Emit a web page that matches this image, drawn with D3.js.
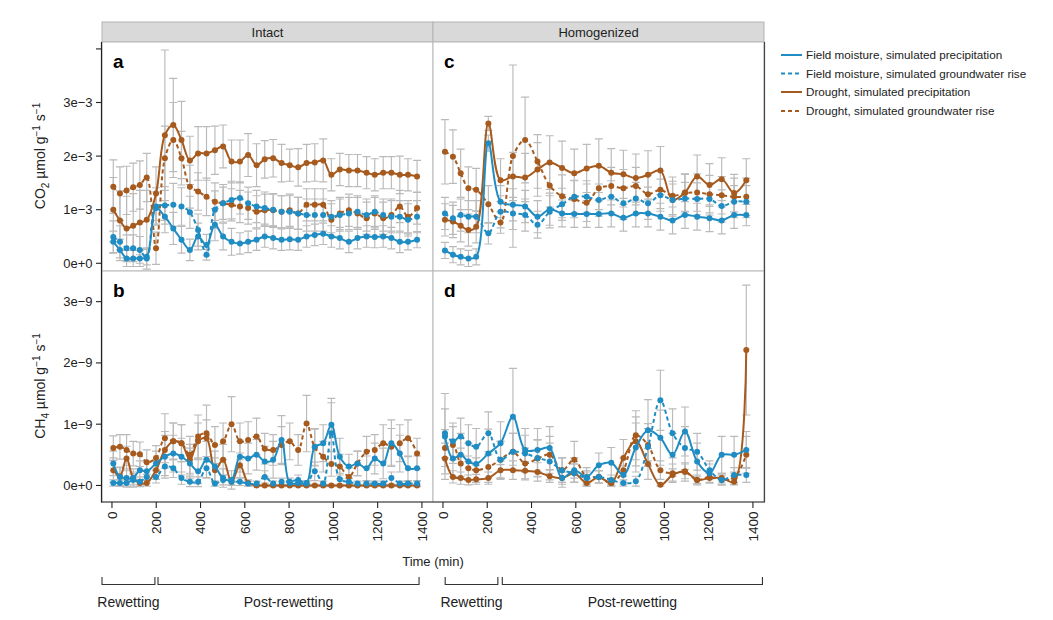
<!DOCTYPE html>
<html><head><meta charset="utf-8">
<script src="https://cdn.jsdelivr.net/npm/d3@7"></script>
<style>body{margin:0;background:#fff} text{font-family:"Liberation Sans",Arial,Helvetica,sans-serif}</style>
</head><body><svg id="chart" width="1053" height="620"></svg>
<script>
// ---------- DATA ----------
const timesIntact = [6, 36, 66, 96, 126, 157, 199, 239, 277, 314, 352, 389, 427, 465, 502, 540, 578, 615, 653, 690, 728, 766, 803, 841, 879, 916, 954, 991, 1029, 1070, 1109, 1150, 1187, 1225, 1262, 1300, 1337, 1378];
const timesHomog = [9, 45, 80, 115, 150, 205, 260, 316, 371, 427, 482, 538, 593, 649, 704, 760, 815, 871, 926, 982, 1037, 1093, 1148, 1204, 1259, 1315, 1370];

// CO2 (units of 1e-3 umol g-1 s-1), Intact
const co2IntactFP = [0.40, 0.25, 0.09, 0.09, 0.09, 0.12, 1.03, 0.87, 0.65, 0.44, 0.25, 0.50, 0.34, 0.72, 0.50, 0.40, 0.37, 0.40, 0.44, 0.50, 0.47, 0.44, 0.45, 0.44, 0.50, 0.53, 0.55, 0.50, 0.47, 0.40, 0.47, 0.50, 0.49, 0.50, 0.47, 0.40, 0.40, 0.44];
const co2IntactFPerr = [0.2, 0.2, 0.15, 0.15, 0.15, 0.15, 0.3, 0.3, 0.3, 0.25, 0.2, 0.25, 0.2, 0.3, 0.25, 0.25, 0.2, 0.2, 0.2, 0.2, 0.2, 0.2, 0.2, 0.2, 0.2, 0.2, 0.2, 0.2, 0.2, 0.2, 0.2, 0.2, 0.2, 0.2, 0.2, 0.2, 0.15, 0.15];
const co2IntactFG = [0.49, 0.40, 0.28, 0.28, 0.25, 0.09, 1.06, 1.08, 1.09, 1.06, 0.95, 0.62, 0.16, 1.00, 1.12, 1.18, 1.22, 1.12, 1.06, 1.03, 1.00, 0.96, 0.96, 0.93, 0.90, 0.90, 0.90, 0.87, 0.90, 0.93, 0.96, 0.90, 0.96, 0.90, 0.87, 0.87, 0.81, 0.87];
const co2IntactFGerr = [0.3, 0.3, 0.25, 0.25, 0.25, 0.2, 0.35, 0.35, 0.4, 0.35, 0.3, 0.3, 0.1, 0.35, 0.35, 0.35, 0.3, 0.3, 0.3, 0.3, 0.3, 0.3, 0.3, 0.3, 0.3, 0.3, 0.3, 0.3, 0.3, 0.3, 0.3, 0.3, 0.3, 0.3, 0.3, 0.3, 0.3, 0.3];
const co2IntactDP = [1.00, 0.80, 0.65, 0.70, 0.76, 0.81, 1.30, 2.39, 2.58, 2.30, 1.92, 2.05, 2.05, 2.11, 2.18, 1.90, 1.90, 2.02, 1.83, 1.94, 1.96, 1.87, 1.83, 1.79, 1.87, 1.88, 1.92, 1.65, 1.75, 1.73, 1.73, 1.69, 1.65, 1.69, 1.69, 1.65, 1.65, 1.62];
const co2IntactDPerr = [0.6, 0.55, 0.6, 0.6, 0.6, 0.55, 0.5, 1.59, 0.87, 0.72, 0.45, 0.5, 0.5, 0.45, 0.4, 0.4, 0.4, 0.4, 0.4, 0.35, 0.35, 0.35, 0.3, 0.35, 0.35, 0.35, 0.4, 0.3, 0.3, 0.3, 0.3, 0.3, 0.3, 0.3, 0.3, 0.35, 0.3, 0.3];
const co2IntactDG = [1.43, 1.30, 1.36, 1.42, 1.46, 1.60, 0.28, 1.96, 2.30, 1.96, 1.43, 1.34, 1.24, 1.15, 1.12, 1.09, 1.06, 1.03, 0.96, 0.99, 0.99, 0.96, 0.99, 0.93, 1.09, 1.09, 1.09, 0.81, 0.93, 0.99, 0.93, 0.84, 0.93, 0.84, 0.90, 1.06, 0.87, 1.03];
const co2IntactDGerr = [0.5, 0.5, 0.45, 0.45, 0.45, 0.45, 0.3, 0.6, 0.7, 0.5, 0.4, 0.35, 0.35, 0.35, 0.3, 0.3, 0.3, 0.3, 0.3, 0.3, 0.3, 0.3, 0.3, 0.3, 0.3, 0.3, 0.3, 0.3, 0.3, 0.3, 0.3, 0.3, 0.3, 0.3, 0.3, 0.3, 0.3, 0.3];

// CO2, Homogenized
const co2HomogFP = [0.24, 0.16, 0.12, 0.09, 0.12, 2.24, 1.15, 1.09, 1.06, 0.87, 1.01, 0.93, 0.92, 0.92, 0.92, 0.93, 0.85, 0.93, 0.93, 0.87, 0.80, 0.90, 0.87, 0.84, 0.80, 0.90, 0.90];
const co2HomogFPerr = [0.15, 0.15, 0.15, 0.15, 0.15, 0.15, 0.3, 0.3, 0.3, 0.3, 0.3, 0.25, 0.25, 0.25, 0.25, 0.25, 0.25, 0.25, 0.25, 0.25, 0.25, 0.25, 0.25, 0.25, 0.25, 0.25, 0.2];
const co2HomogFG = [0.93, 0.84, 0.90, 0.87, 0.87, 0.56, 0.96, 0.93, 0.90, 0.72, 0.96, 1.10, 1.24, 1.24, 1.18, 1.24, 1.12, 1.21, 1.12, 1.27, 1.18, 1.21, 1.20, 1.20, 1.07, 1.15, 1.15];
const co2HomogFGerr = [0.3, 0.3, 0.3, 0.3, 0.3, 0.2, 0.3, 0.3, 0.3, 0.25, 0.3, 0.3, 0.3, 0.3, 0.3, 0.3, 0.3, 0.3, 0.3, 0.3, 0.3, 0.3, 0.3, 0.3, 0.3, 0.3, 0.3];
const co2HomogDP = [0.81, 0.78, 0.70, 0.62, 0.68, 2.61, 1.55, 1.62, 1.60, 1.75, 1.88, 1.78, 1.68, 1.77, 1.82, 1.69, 1.66, 1.59, 1.65, 1.73, 1.18, 1.32, 1.62, 1.46, 1.57, 1.31, 1.55];
const co2HomogDPerr = [0.3, 0.3, 0.3, 0.3, 0.3, 0.13, 0.4, 0.45, 0.45, 0.5, 0.5, 0.5, 0.45, 0.45, 0.5, 0.45, 0.45, 0.45, 0.45, 0.45, 0.35, 0.35, 0.4, 0.4, 0.4, 0.35, 0.4];
const co2HomogDG = [2.08, 1.99, 1.68, 1.40, 1.37, 1.10, 0.76, 2.00, 2.30, 1.90, 1.45, 1.25, 1.20, 1.13, 1.40, 1.44, 1.40, 1.44, 1.29, 1.37, 1.26, 1.31, 1.32, 1.29, 1.27, 1.24, 1.24];
const co2HomogDGerr = [0.6, 0.5, 0.45, 0.4, 0.4, 0.35, 0.2, 1.7, 0.8, 0.5, 0.4, 0.4, 0.35, 0.35, 0.4, 0.35, 0.35, 0.35, 0.35, 0.35, 0.35, 0.35, 0.35, 0.35, 0.35, 0.35, 0.35];

// CH4 (units of 1e-9 umol g-1 s-1), Intact
const ch4IntactFP = [0.36, 0.14, 0.12, 0.12, 0.25, 0.23, 0.36, 0.47, 0.52, 0.47, 0.36, 0.23, 0.42, 0.31, 0.12, 0.09, 0.47, 0.44, 0.50, 0.39, 0.42, 0.74, 0.04, 0.04, 0.04, 0.63, 0.69, 0.99, 0.47, 0.31, 0.36, 0.28, 0.44, 0.36, 0.69, 0.52, 0.28, 0.28];
const ch4IntactFPerr = [0.2, 0.15, 0.15, 0.15, 0.15, 0.15, 0.2, 0.35, 0.3, 0.3, 0.25, 0.2, 0.3, 0.25, 0.15, 0.15, 0.25, 0.25, 0.25, 0.25, 0.3, 0.4, 0.04, 0.04, 0.04, 0.3, 0.3, 0.43, 0.3, 0.2, 0.2, 0.2, 0.25, 0.25, 0.38, 0.3, 0.2, 0.2];
const ch4IntactFG = [0.04, 0.04, 0.04, 0.09, 0.06, 0.14, 0.14, 0.31, 0.28, 0.12, 0.06, 0.06, 0.28, 0.03, 0.09, 0.06, 0.06, 0.03, 0.03, 0.14, 0.03, 0.06, 0.06, 0.09, 0.03, 0.23, 0.03, 0.85, 0.10, 0.06, 0.03, 0.03, 0.03, 0.03, 0.12, 0.03, 0.03, 0.03];
const ch4IntactFGerr = [0.05, 0.05, 0.05, 0.1, 0.08, 0.1, 0.1, 0.15, 0.15, 0.1, 0.08, 0.08, 0.15, 0.04, 0.08, 0.06, 0.06, 0.04, 0.04, 0.1, 0.04, 0.06, 0.06, 0.08, 0.04, 0.15, 0.04, 0.5, 0.1, 0.06, 0.04, 0.04, 0.04, 0.04, 0.1, 0.04, 0.04, 0.04];
const ch4IntactDP = [0.25, 0.15, 0.44, 0.12, 0.04, 0.04, 0.25, 0.58, 0.72, 0.69, 0.42, 0.72, 0.77, 0.25, 0.42, 0.06, 0.33, 0.04, 0.00, 0.00, 0.00, 0.00, 0.00, 0.00, 0.00, 0.00, 0.00, 0.00, 0.00, 0.00, 0.00, 0.00, 0.00, 0.00, 0.00, 0.00, 0.00, 0.00];
const ch4IntactDPerr = [0.2, 0.15, 0.2, 0.1, 0.05, 0.05, 0.15, 0.3, 0.3, 0.3, 0.25, 0.3, 0.3, 0.2, 0.25, 0.05, 0.2, 0.05, 0.02, 0.02, 0.02, 0.02, 0.02, 0.02, 0.02, 0.02, 0.02, 0.02, 0.02, 0.02, 0.02, 0.02, 0.02, 0.02, 0.02, 0.02, 0.02, 0.02];
const ch4IntactDG = [0.61, 0.63, 0.58, 0.52, 0.51, 0.38, 0.45, 0.77, 0.72, 0.69, 0.50, 0.80, 0.85, 0.66, 0.72, 1.00, 0.72, 0.74, 0.80, 0.60, 0.58, 0.66, 0.72, 0.58, 1.01, 0.62, 0.47, 0.35, 0.31, 0.14, 0.36, 0.55, 0.58, 0.69, 0.63, 0.69, 0.77, 0.52];
const ch4IntactDGerr = [0.2, 0.2, 0.25, 0.2, 0.2, 0.2, 0.2, 0.4, 0.3, 0.3, 0.3, 0.35, 0.46, 0.3, 0.3, 0.45, 0.3, 0.3, 0.3, 0.25, 0.25, 0.3, 0.3, 0.25, 0.46, 0.3, 0.25, 0.2, 0.2, 0.15, 0.2, 0.25, 0.25, 0.3, 0.3, 0.3, 0.3, 0.25];

// CH4, Homogenized
const ch4HomogFP = [0.80, 0.44, 0.50, 0.39, 0.35, 0.52, 0.69, 1.12, 0.58, 0.58, 0.61, 0.12, 0.25, 0.14, 0.33, 0.37, 0.17, 0.62, 0.90, 0.78, 0.50, 0.88, 0.39, 0.20, 0.50, 0.50, 0.58];
const ch4HomogFPerr = [0.7, 0.3, 0.35, 0.3, 0.3, 0.4, 0.35, 0.79, 0.35, 0.35, 0.35, 0.15, 0.2, 0.15, 0.2, 0.25, 0.15, 0.4, 0.5, 0.45, 0.35, 0.4, 0.3, 0.15, 0.3, 0.3, 0.3];
const ch4HomogFG = [0.85, 0.72, 0.80, 0.69, 0.63, 0.85, 0.42, 0.55, 0.52, 0.45, 0.39, 0.25, 0.20, 0.12, 0.14, 0.09, 0.04, 0.07, 0.63, 1.39, 0.85, 0.61, 0.55, 0.25, 0.09, 0.17, 0.17];
const ch4HomogFGerr = [0.4, 0.3, 0.3, 0.3, 0.3, 0.35, 0.3, 0.3, 0.3, 0.3, 0.3, 0.2, 0.15, 0.1, 0.1, 0.08, 0.05, 0.08, 0.3, 0.49, 0.4, 0.35, 0.3, 0.15, 0.08, 0.12, 0.12];
const ch4HomogDP = [0.44, 0.14, 0.12, 0.09, 0.10, 0.12, 0.25, 0.25, 0.24, 0.22, 0.15, 0.12, 0.20, 0.04, 0.14, 0.04, 0.45, 0.72, 0.35, 0.01, 0.17, 0.23, 0.09, 0.12, 0.12, 0.06, 2.21];
const ch4HomogDPerr = [0.25, 0.1, 0.1, 0.08, 0.08, 0.1, 0.15, 0.15, 0.15, 0.15, 0.1, 0.1, 0.15, 0.05, 0.1, 0.05, 0.3, 0.4, 0.25, 0.02, 0.1, 0.12, 0.06, 0.08, 0.08, 0.05, 1.06];
const ch4HomogDG = [0.61, 0.66, 0.36, 0.28, 0.25, 0.30, 0.42, 0.55, 0.36, 0.44, 0.50, 0.25, 0.42, 0.14, 0.14, 0.04, 0.25, 0.82, 0.66, 0.25, 0.20, 0.22, 0.09, 0.14, 0.09, 0.12, 0.50];
const ch4HomogDGerr = [0.3, 0.3, 0.25, 0.2, 0.2, 0.25, 0.3, 0.3, 0.25, 0.3, 0.3, 0.2, 0.3, 0.1, 0.1, 0.05, 0.2, 0.4, 0.35, 0.15, 0.15, 0.15, 0.08, 0.1, 0.08, 0.1, 0.3];

const seriesNames = ["Field moisture, simulated precipitation", "Field moisture, simulated groundwater rise", "Drought, simulated precipitation", "Drought, simulated groundwater rise"];
const facetLabels = ["Intact", "Homogenized"];
const panelLetters = ["a", "c", "b", "d"];
const xTicks = [0, 200, 400, 600, 800, 1000, 1200, 1400];
const co2Ticks = [0, 1, 2, 3, 4];
const co2TickLabels = ["0e+0", "1e\u22123", "2e\u22123", "3e\u22123", ""];
const ch4Ticks = [0, 1, 2, 3];
const ch4TickLabels = ["0e+0", "1e\u22129", "2e\u22129", "3e\u22129"];
const phasesIntact = [["Rewetting", -45, 194], ["Post-rewetting", 208, 1387]];
const phasesHomog = [["Rewetting", 10, 248], ["Post-rewetting", 268, 1443]];

// ---------- STYLE / LAYOUT ----------
const BLUE = "#1f8dc3", BROWN = "#a65a1e";
const seriesStyle = [
  {color: BLUE, dash: null}, {color: BLUE, dash: "4,3"},
  {color: BROWN, dash: null}, {color: BROWN, dash: "4,3"}];
const colRange = [[102, 433], [433, 764]];
const rowRange = [[271, 42], [502, 271]];
const svg = d3.select("#chart");

const xs = colRange.map(r => d3.scaleLinear().domain([-45, 1450]).range(r));
const yCO2 = d3.scaleLinear().domain([-0.144, 4.129]).range(rowRange[0]);
const yCH4 = d3.scaleLinear().domain([-0.27, 3.5]).range(rowRange[1]);

const panels = [
  {col: 0, y: yCO2, t: timesIntact, s: [[co2IntactFP, co2IntactFPerr], [co2IntactFG, co2IntactFGerr], [co2IntactDP, co2IntactDPerr], [co2IntactDG, co2IntactDGerr]]},
  {col: 1, y: yCO2, t: timesHomog, s: [[co2HomogFP, co2HomogFPerr], [co2HomogFG, co2HomogFGerr], [co2HomogDP, co2HomogDPerr], [co2HomogDG, co2HomogDGerr]]},
  {col: 0, y: yCH4, t: timesIntact, s: [[ch4IntactFP, ch4IntactFPerr], [ch4IntactFG, ch4IntactFGerr], [ch4IntactDP, ch4IntactDPerr], [ch4IntactDG, ch4IntactDGerr]]},
  {col: 1, y: yCH4, t: timesHomog, s: [[ch4HomogFP, ch4HomogFPerr], [ch4HomogFG, ch4HomogFGerr], [ch4HomogDP, ch4HomogDPerr], [ch4HomogDG, ch4HomogDGerr]]}
];

// strips
facetLabels.forEach((lab, c) => {
  svg.append("rect").attr("x", colRange[c][0]).attr("y", 22).attr("width", colRange[c][1] - colRange[c][0]).attr("height", 20)
    .attr("fill", "#d9d9d9").attr("stroke", "#b3b3b3").attr("stroke-width", 1);
  svg.append("text").attr("x", (colRange[c][0] + colRange[c][1]) / 2).attr("y", 36.5).attr("text-anchor", "middle")
    .attr("font-size", 13).attr("fill", "#222").text(lab);
});

const defs = svg.append("defs");
panels.forEach((p, i) => {
  const x = xs[p.col], y = p.y;
  const [x0, x1] = x.range(), [yb, yt] = y.range();
  svg.append("rect").attr("x", x0).attr("y", yt).attr("width", x1 - x0).attr("height", yb - yt)
    .attr("fill", "#fff").attr("stroke", "#b8b8b8").attr("stroke-width", 1);
  defs.append("clipPath").attr("id", "clip" + i).append("rect")
    .attr("x", x0 + 0.5).attr("y", yt + 0.5).attr("width", x1 - x0 - 1).attr("height", yb - yt - 1);
  const g = svg.append("g").attr("clip-path", `url(#clip${i})`);
  // error bars
  const eg = g.append("g").attr("stroke", "#bababa").attr("stroke-width", 1.15).attr("fill", "none");
  p.s.forEach(([vals, errs]) => {
    vals.forEach((v, k) => {
      const cx = x(p.t[k]), lo = y(v - errs[k]), hi = y(v + errs[k]);
      eg.append("line").attr("x1", cx).attr("x2", cx).attr("y1", lo).attr("y2", hi);
      eg.append("line").attr("x1", cx - 4).attr("x2", cx + 4).attr("y1", lo).attr("y2", lo);
      eg.append("line").attr("x1", cx - 4).attr("x2", cx + 4).attr("y1", hi).attr("y2", hi);
    });
  });
  const order = [2, 3, 0, 1];
  order.forEach(si => {
    const [vals] = p.s[si];
    const st = seriesStyle[si];
    const pts = vals.map((v, k) => [x(p.t[k]), y(v)]);
    g.append("path").attr("d", d3.line().curve(d3.curveCatmullRom.alpha(0.5))(pts))
      .attr("fill", "none").attr("stroke", st.color).attr("stroke-width", 2)
      .attr("stroke-dasharray", st.dash);
    g.append("g").selectAll("circle").data(pts).join("circle")
      .attr("cx", d => d[0]).attr("cy", d => d[1]).attr("r", 3).attr("fill", st.color);
  });
  // panel letter
  svg.append("text").attr("x", x0 + 11).attr("y", yt + 26).attr("font-size", 19).attr("font-weight", "bold")
    .attr("fill", "#000").text(panelLetters[i]);
});

// outer frame lines
svg.append("line").attr("x1", 101.5).attr("x2", 101.5).attr("y1", 42).attr("y2", 502.5).attr("stroke", "#222").attr("stroke-width", 1.2);
svg.append("line").attr("x1", 101).attr("x2", 764.5).attr("y1", 502).attr("y2", 502).attr("stroke", "#333").attr("stroke-width", 1.2);
svg.append("line").attr("x1", 764.5).attr("x2", 764.5).attr("y1", 42).attr("y2", 502.5).attr("stroke", "#444").attr("stroke-width", 1.2);

// y axes
function yAxis(scale, ticks, labels) {
  ticks.forEach((tv, k) => {
    const yy = scale(tv);
    svg.append("line").attr("x1", 96).attr("x2", 101.5).attr("y1", yy).attr("y2", yy).attr("stroke", "#222").attr("stroke-width", 1.1);
    if (labels[k]) svg.append("text").attr("x", 92.5).attr("y", yy).attr("dy", "0.35em").attr("text-anchor", "end")
      .attr("font-size", 13).attr("fill", "#222").text(labels[k]);
  });
}
yAxis(yCO2, co2Ticks, co2TickLabels);
yAxis(yCH4, ch4Ticks, ch4TickLabels);

// x axes
xs.forEach(x => {
  xTicks.forEach(tv => {
    const xx = x(tv);
    svg.append("line").attr("x1", xx).attr("x2", xx).attr("y1", 502).attr("y2", 508).attr("stroke", "#222").attr("stroke-width", 1.1);
    svg.append("text").attr("transform", `translate(${xx},511.5) rotate(-90)`).attr("dy", "0.35em").attr("text-anchor", "end")
      .attr("font-size", 13.5).attr("fill", "#222").text(tv);
  });
});
svg.append("text").attr("x", 433).attr("y", 566).attr("text-anchor", "middle").attr("font-size", 13).attr("fill", "#222").text("Time (min)");

// y titles
function yTitle(cy, base, sub) {
  const t = svg.append("text").attr("transform", `translate(45,${cy}) rotate(-90)`).attr("text-anchor", "middle")
    .attr("font-size", 14).attr("fill", "#222");
  t.append("tspan").text(base);
  t.append("tspan").attr("dy", 3.5).attr("font-size", 10).text(sub);
  t.append("tspan").attr("dy", -3.5).text(" \u00b5mol g");
  t.append("tspan").attr("dy", -5.5).attr("font-size", 10).text("\u22121");
  t.append("tspan").attr("dy", 5.5).text(" s");
  t.append("tspan").attr("dy", -5.5).attr("font-size", 10).text("\u22121");
}
yTitle(156, "CO", "2");
yTitle(386, "CH", "4");

// phase brackets
[[phasesIntact, xs[0]], [phasesHomog, xs[1]]].forEach(([phases, x]) => {
  phases.forEach(([lab, a, b]) => {
    const xa = x(a), xb = x(b);
    svg.append("path").attr("d", `M${xa},577V584.5H${xb}V577`).attr("fill", "none").attr("stroke", "#333").attr("stroke-width", 1.1);
    svg.append("text").attr("x", (xa + xb) / 2).attr("y", 607).attr("text-anchor", "middle").attr("font-size", 14).attr("fill", "#222").text(lab);
  });
});

// legend
const lg = svg.append("g");
seriesNames.forEach((name, k) => {
  const yy = [55, 73.5, 92, 111][k];
  lg.append("line").attr("x1", 781).attr("x2", 802).attr("y1", yy).attr("y2", yy)
    .attr("stroke", seriesStyle[k].color).attr("stroke-width", 2).attr("stroke-dasharray", seriesStyle[k].dash);
  lg.append("text").attr("x", 806).attr("y", yy).attr("dy", "0.35em").attr("font-size", 11.7).attr("fill", "#222").text(name);
});
</script></body></html>
